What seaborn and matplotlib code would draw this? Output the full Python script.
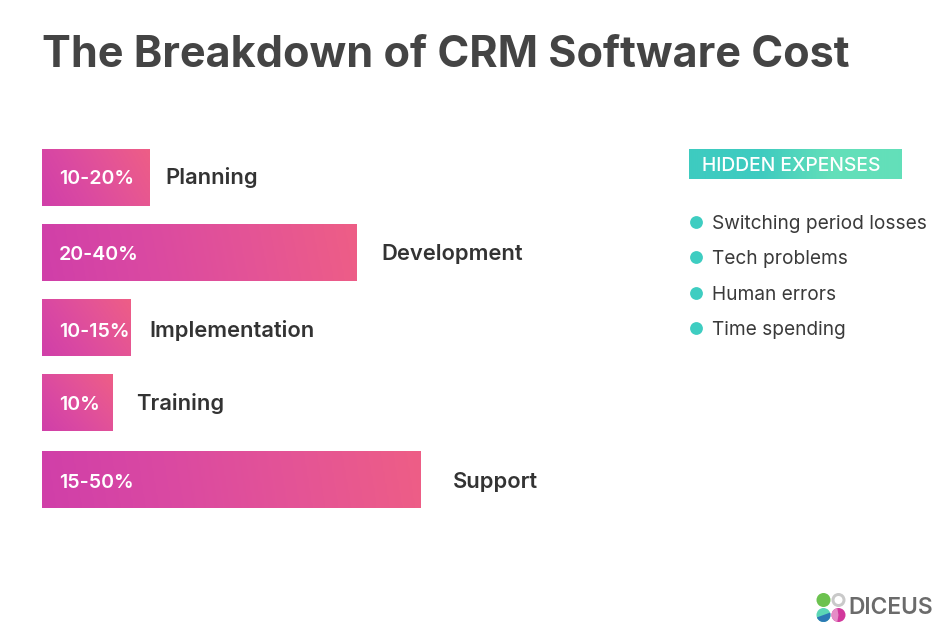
import numpy as np
import pandas as pd
import matplotlib
matplotlib.use("Agg")
import matplotlib.pyplot as plt
from matplotlib.colors import LinearSegmentedColormap
from matplotlib.patches import Circle, Rectangle, Wedge
import seaborn as sns

# CHART DATA
categories = ["Planning", "Development", "Implementation", "Training", "Support"]
share_labels = ["10-20%", "20-40%", "10-15%", "10%", "15-50%"]
bar_lengths = [108, 315, 89, 71, 379]
hidden_expenses = ["Switching period losses", "Tech problems", "Human errors", "Time spending"]

# LAYOUT (PIXELS)
row_y = [177.5, 252.5, 327.5, 402.5, 479.5]
text_y = [183.5, 260, 337, 410.5, 487.5]
label_x = [165, 381, 149, 136, 453]
expense_y = [222, 257, 293, 328]
BAR_LEFT = 42

sns.set_theme(style="white")
plt.rcParams["font.family"] = ["Inter", "DejaVu Sans"]

pink = LinearSegmentedColormap.from_list("pink", ["#d03fa9", "#da49a2", "#e45496", "#ee5e86"])
teal = LinearSegmentedColormap.from_list("teal", ["#3ecbc0", "#3ecbc0", "#63dfb9", "#63dfb9"])

fig = plt.figure(figsize=(9.5, 6.36), dpi=100)
ax = fig.add_axes([0, 0, 1, 1])

df = pd.DataFrame({"category": categories, "length": bar_lengths, "y": row_y})
sns.barplot(data=df, x="length", y="y", orient="h", native_scale=True,
            width=0.76, color="#e0509a", linewidth=0, ax=ax)
ax.set_xlim(-BAR_LEFT, 950 - BAR_LEFT)
ax.set_ylim(636, 0)
ax.axis("off")


# FILL A PATCH WITH A SLANTED GRADIENT
def gradient(axis, patch, cmap, slant):
    x0, y0 = patch.get_x(), patch.get_y()
    w, h = patch.get_width(), patch.get_height()
    xx, yy = np.meshgrid(np.linspace(0, w, 200), np.linspace(0, abs(h), 30))
    t = xx + slant * (abs(h) - yy)
    t = t / t.max()
    im = axis.imshow(t, extent=(x0, x0 + w, y0 + h, y0), cmap=cmap, vmin=0, vmax=1,
                     aspect="auto", origin="upper", zorder=2)
    im.set_clip_path(patch)


for bar in ax.patches:
    gradient(ax, bar, pink, slant=60 / bar.get_width())
ax.set_xlim(-BAR_LEFT, 950 - BAR_LEFT)
ax.set_ylim(636, 0)

# OVERLAY IN PLAIN PIXEL COORDINATES FOR TEXT AND THE SIDE PANEL
over = fig.add_axes([0, 0, 1, 1], facecolor="none")
over.set_xlim(0, 950)
over.set_ylim(636, 0)
over.axis("off")

over.text(41.5, 67, "The Breakdown of CRM Software Cost", fontsize=31.1, fontweight="bold",
          color="#444444", ha="left", va="baseline")

for name, share, lx, y in zip(categories, share_labels, label_x, text_y):
    over.text(59, y, share, fontsize=14.1, fontweight="semibold", color="white",
              ha="left", va="baseline", zorder=5)
    over.text(lx, y, name, fontsize=15.8, fontweight="semibold", color="#333333",
              ha="left", va="baseline")

# HIDDEN EXPENSES PANEL
header = Rectangle((689, 149), 213, 30, linewidth=0, facecolor="none")
over.add_patch(header)
gradient(over, header, teal, slant=0)
over.set_xlim(0, 950)
over.set_ylim(636, 0)
over.text(702, 171, "HIDDEN EXPENSES", fontsize=13.9, fontweight="medium", color="white",
          ha="left", va="baseline", zorder=5)

sns.scatterplot(x=[696] * len(expense_y), y=expense_y, s=85, color="#3ecdc1",
                linewidth=0, legend=False, ax=over)
for item, y in zip(hidden_expenses, expense_y):
    over.text(712, y + 7, item, fontsize=13.75, color="#3a3a3a", ha="left", va="baseline")

# LOGO
for cx, cy, c in [(823.5, 600, "#6cc24f"), (838.5, 600, "#c9c9c9"),
                  (823.5, 615, "#5bd6b5"), (838.5, 615, "#d2389c")]:
    over.add_patch(Circle((cx, cy), 7, facecolor=c, linewidth=0))
over.add_patch(Wedge((823.5, 615), 7, -20, 160, facecolor="#2c78b5", linewidth=0))
over.add_patch(Wedge((838.5, 615), 7, 100, 260, facecolor="#e58cc6", linewidth=0))
over.add_patch(Circle((838.5, 600), 4, facecolor="white", linewidth=0))
over.text(848.5, 614, "DICEUS", fontsize=16.4, fontweight="semibold", color="#6b6b6b",
          ha="left", va="baseline")

fig.savefig("out.png", dpi=100)
